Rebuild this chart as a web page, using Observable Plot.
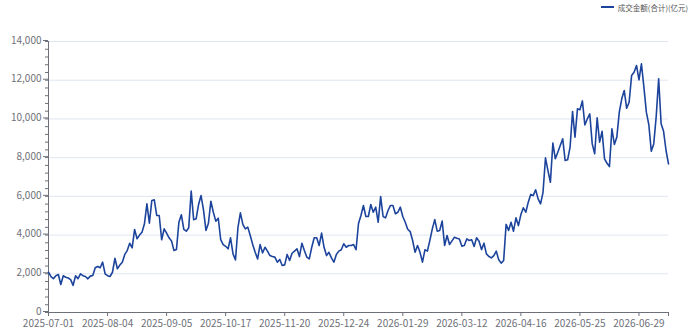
<!DOCTYPE html>
<html>
<head>
<meta charset="utf-8">
<script src="https://cdn.jsdelivr.net/npm/d3@7"></script>
<script src="https://cdn.jsdelivr.net/npm/@observablehq/plot@0.6"></script>
<style>
  html, body { margin: 0; padding: 0; background: #fff; }
  #wrap { position: relative; width: 691px; height: 334px; font-family: "Noto Sans CJK SC", "Noto Sans", sans-serif; }
  #legend { position: absolute; top: 0px; right: 3px; height: 14px; display: flex; align-items: center; font-size: 7.5px; color: #555; white-space: nowrap; }
  #legend .sw { width: 13px; height: 2px; background: #1D449C; margin-right: 4px; }
</style>
</head>
<body>
<div id="wrap"><div id="legend"><span class="sw"></span><span id="lgText"></span></div></div>
<script>
const seriesName = "成交金额(合计)(亿元)";
const tickLabels = ["2025-07-01","2025-08-04","2025-09-05","2025-10-17","2025-11-20","2025-12-24","2026-01-29","2026-03-12","2026-04-16","2026-05-25","2026-06-29"];
const tickEvery = 24;
const yTicks = [0, 2000, 4000, 6000, 8000, 10000, 12000, 14000];
const amounts = [
 2080,1850,1750,1900,1960,1450,1900,1820,1780,1700,
 1400,1900,1750,2000,1900,1860,1740,1880,1910,
 2310,2380,2310,2600,2000,1900,1860,2080,2800,2260,
 2450,2600,3000,3200,3580,3340,4290,3810,4000,4150,
 4580,5610,4610,5790,5820,5010,5010,3760,4320,4100,
 3860,3700,3200,3250,4660,5050,4290,4200,4380,6270,
 4790,4840,5580,6040,5300,4240,4610,5750,5180,
 4720,4870,3760,3510,3420,3290,3860,3030,2720,4380,
 5150,4550,4320,4410,3980,3510,3110,2770,3510,3080,
 3370,3170,2940,2890,2860,2600,2740,2430,2460,3000,
 2690,3060,3170,3290,2890,3580,3200,2860,2770,
 3370,3860,3860,3460,4100,3370,2940,3110,2820,2600,
 3000,3170,3240,3550,3370,3460,3460,3510,3240,4600,
 5010,5530,4960,4960,5580,5180,5440,4660,5990,4960,
 4890,5270,5530,5530,5100,5180,5440,4960,4660,4300,
 4180,3720,3110,3460,3110,2600,3240,3170,3720,
 4320,4800,4200,4240,4720,3460,3980,3510,3700,3890,
 3840,3800,3430,3460,3800,3720,3760,3410,3860,3680,
 3250,3580,3030,2890,2820,2940,3170,2720,2550,2690,
 4550,4240,4660,4200,4890,4490,5060,5410,5180,
 5700,6100,6040,6340,5870,5610,6210,7990,7330,6730,
 8750,7940,8280,8630,8970,7850,7890,8540,10380,9060,
 10520,10470,10930,9690,10000,10260,8710,8200,10060,8800,
 9360,7940,7710,7540,9490,8680,9060,10350,11040,
 11470,10550,10860,12240,12410,12760,12020,12850,11640,10350,
 9710,8330,8710,10120,12070,9750,9360,8370,7680
];

document.getElementById("lgText").textContent = seriesName;
const data = amounts.map((v, i) => ({i, v}));
const n = amounts.length;
const xTickIdx = tickLabels.map((_, k) => k * tickEvery);
const minorY = d3.range(0, 14001, 400);
const axisColor = "#6E7079";

const chart = Plot.plot({
  width: 691,
  height: 334,
  marginTop: 41,
  marginBottom: 22,
  marginLeft: 48,
  marginRight: 23,
  style: {fontFamily: '"Noto Sans CJK SC", "Noto Sans", sans-serif', fontSize: "10px", color: axisColor, background: "transparent"},
  x: {type: "linear", domain: [0, n - 1]},
  y: {domain: [0, 14000]},
  marks: [
    Plot.gridY(yTicks, {stroke: "#E0E6F1", strokeOpacity: 1}),
    Plot.axisY(minorY, {tickSize: 3, tickFormat: () => "", stroke: axisColor, label: null}),
    Plot.axisY(yTicks, {tickSize: 5, tickPadding: 2, dy: -1, tickFormat: d3.format(","), stroke: axisColor, fill: axisColor, label: null}),
    Plot.axisX([n - 1], {tickSize: 4, tickFormat: () => "", stroke: axisColor, label: null}),
    Plot.axisX(xTickIdx, {tickSize: 4, tickPadding: 3, tickFormat: (d) => tickLabels[d / tickEvery], stroke: axisColor, fill: axisColor, label: null}),
    Plot.ruleX([0], {stroke: axisColor}),
    Plot.ruleY([0], {stroke: axisColor}),
    Plot.lineY(data, {x: "i", y: "v", stroke: "#1D449C", strokeWidth: 1.6, curve: "linear"})
  ]
});
document.getElementById("wrap").appendChild(chart);
</script>
</body>
</html>
